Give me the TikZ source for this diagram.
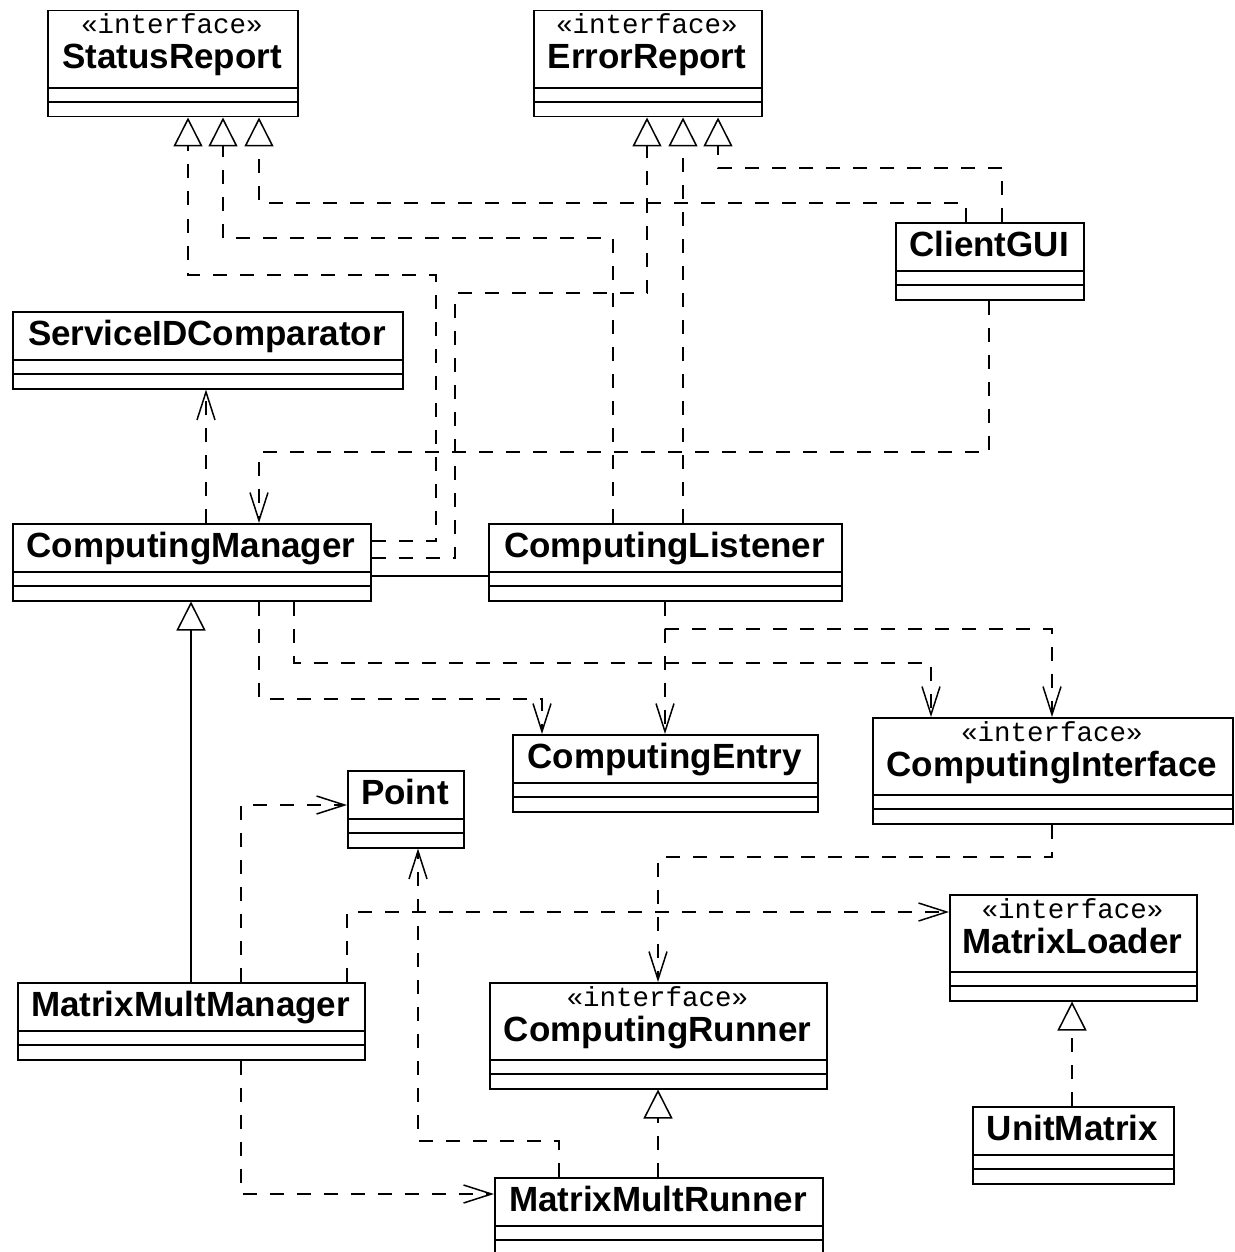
\documentclass[tikz,border=0pt]{standalone}
\usepackage{fontspec}
\usetikzlibrary{arrows.meta}
\newfontfamily\classfont{Liberation Sans}
\newfontfamily\stereofont{Liberation Mono}

\tikzset{
  classbox/.style={draw, line width=1.5pt, rectangle, inner sep=0pt, anchor=north west},
  cname/.style={anchor=base, inner sep=0pt, font=\classfont\bfseries\fontsize{35}{40}\selectfont},
  cstereo/.style={anchor=base, inner sep=0pt, font=\stereofont\fontsize{27.5}{30}\selectfont},
  dashline/.style={line width=1.5pt, dash pattern=on 14pt off 13pt},
  depline/.style={dashline, -{Straight Barb[length=28pt,width=18pt]}},
  realline/.style={dashline, -{Triangle[open,length=29pt,width=29pt]}},
  genline/.style={line width=1.5pt, -{Triangle[open,length=29pt,width=29pt]}},
  assocline/.style={line width=1.5pt}
}

\newcommand\plainclass[5]{%
  \node[classbox, minimum width=#4-#2, minimum height=77] (#1) at (#2,#3) {};
  \node[cname] (#1-name) at ({(#2+#4)/2},#3+34) {#5};
  \draw[line width=1.5pt] (#1.west |- 0,#3+49) -- (#1.east |- 0,#3+49)
    (#1.west |- 0,#3+63) -- (#1.east |- 0,#3+63);
}
\newcommand\ifaceclass[5]{%
  \node[classbox, minimum width=#4-#2, minimum height=106] (#1) at (#2,#3) {};
  \node[cstereo] (#1-st) at ({(#2+#4)/2},#3+24) {«interface»};
  \node[cname] (#1-name) at ({(#2+#4)/2},#3+59) {#5};
  \draw[line width=1.5pt] (#1.west |- 0,#3+78) -- (#1.east |- 0,#3+78)
    (#1.west |- 0,#3+92) -- (#1.east |- 0,#3+92);
}

\begin{document}
\begin{tikzpicture}[x=1pt, y=-1pt]
\useasboundingbox (0,0) rectangle (1234,1252);
\clip (0,0) rectangle (1234,1252);

\ifaceclass{sr}{47}{10}{297}{StatusReport}
\ifaceclass{er}{533}{10}{761}{ErrorReport}
\plainclass{cgui}{895}{222}{1083}{ClientGUI}
\plainclass{sidc}{12}{311}{402}{ServiceIDComparator}
\plainclass{cm}{12}{523}{370}{ComputingManager}
\plainclass{cl}{488}{523}{841}{ComputingListener}
\plainclass{ce}{512}{734}{817}{ComputingEntry}
\ifaceclass{ci}{872}{717}{1232}{ComputingInterface}
\plainclass{pt}{347}{770}{463}{Point}
\ifaceclass{ml}{949}{894}{1196}{MatrixLoader}
\plainclass{mmm}{17}{982}{364}{MatrixMultManager}
\ifaceclass{cr}{489}{982}{826}{ComputingRunner}
\plainclass{um}{972}{1106}{1173}{UnitMatrix}
\plainclass{mmr}{494}{1177}{822}{MatrixMultRunner}

\draw[realline] (cm.east |- 0,541) -| (436,275) -| (sr.south -| 188,0);
\draw[realline] (cm.east |- 0,558) -| (455,293) -| (er.south -| 647,0);
\draw[realline] (cl.north -| 613,0) |- (223,238) -- (sr.south -| 223,0);
\draw[realline] (cl.north -| 683,0) -- (er.south -| 683,0);
\draw[realline] (cgui.north -| 966,0) |- (259,203) -- (sr.south -| 259,0);
\draw[realline] (cgui.north -| 1002,0) |- (718,168) -- (er.south -| 718,0);
\draw[depline] (cgui.south -| 989,0) |- (259,452) -- (cm.north -| 259,0);
\draw[depline] (cm.north -| 206,0) -- (sidc.south -| 206,0);
\draw[assocline] (cm.east |- 0,576) -- (cl.west |- 0,576);
\draw[depline] (cm.south -| 259,0) |- (542,699) -- (ce.north -| 542,0);
\draw[depline] (cm.south -| 294,0) |- (931,663) -- (ci.north -| 931,0);
\draw[depline] (cl.south -| 665,0) -- (ce.north -| 665,0);
\draw[depline] (cl.south -| 665,0) |- (1052,629) -- (ci.north -| 1052,0);
\draw[depline] (ci.south -| 1052,0) |- (658,857) -- (cr.north -| 658,0);
\draw[genline] (mmm.north -| 191,0) -- (cm.south -| 191,0);
\draw[depline] (mmm.north -| 241,0) |- (pt.west |- 0,805);
\draw[depline] (mmm.north -| 347,0) |- (ml.west |- 0,912);
\draw[depline] (mmm.south -| 241,0) |- (mmr.west |- 0,1194);
\draw[depline] (mmr.north -| 559,0) |- (418,1141) -- (pt.south -| 418,0);
\draw[realline] (mmr.north -| 658,0) -- (cr.south -| 658,0);
\draw[realline] (um.north -| 1072,0) -- (ml.south -| 1072,0);
\end{tikzpicture}
\end{document}
